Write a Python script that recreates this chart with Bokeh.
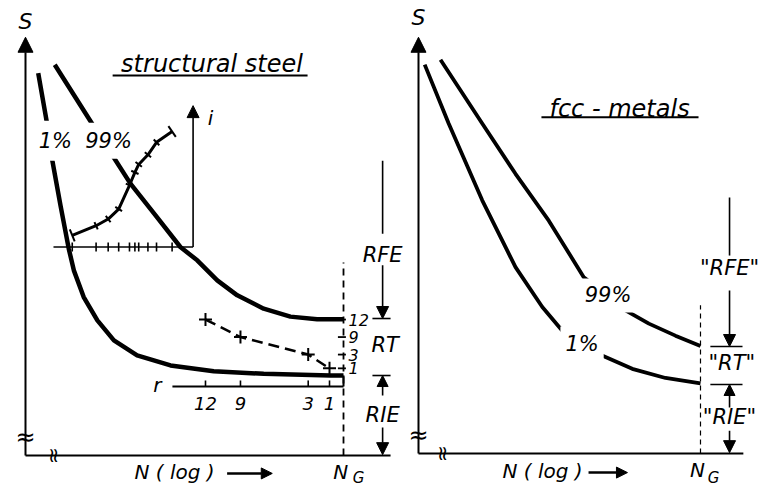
import numpy as np
from bokeh.plotting import figure
from bokeh.models import Range1d, Arrow, NormalHead, Label
from bokeh.layouts import row
from bokeh.embed import file_html
from bokeh.resources import INLINE
from bokeh.core.properties import value

FONT = "DejaVu Sans"

# ---------------- data: left panel (structural steel) ----------------
# x = N on a log scale (arbitrary units, N_G = 10), y = S (arbitrary units)
N_G = 10.0
n_99_steel = [0.92, 2.10, 2.67, 3.30, 4.09, 4.87, 5.40, 6.03, 6.66, 7.49, 8.33, 9.17, 10.0]
s_99_steel = [9.37, 7.95, 7.27, 6.52, 5.76, 5.00, 4.68, 4.20, 3.84, 3.52, 3.33, 3.27, 3.27]
n_1_steel = [0.40, 0.68, 0.84, 1.10, 1.36, 1.52, 1.83, 2.26, 2.78, 3.51, 4.56, 5.92, 7.49, 9.59, 10.0]
s_1_steel = [9.17, 7.95, 7.09, 6.00, 4.96, 4.44, 3.80, 3.24, 2.76, 2.40, 2.16, 2.02, 1.96, 1.92, 1.92]

# inset: order statistic i versus S
inset_s = [1.47, 2.22, 2.60, 2.93, 3.27, 3.44, 3.56, 3.85, 4.12, 4.61]
inset_i = [5.28, 5.51, 5.67, 5.91, 6.48, 6.79, 6.98, 7.21, 7.51, 7.77]

# RT (r = 12, 9, 3, 1)
r_values = ["12", "9", "3", "1"]
r_pos = [5.66, 6.76, 8.89, 9.56]
rt_s = [3.26, 2.84, 2.42, 2.09]

# ---------------- data: right panel (fcc metals) ----------------
n_99_fcc = [0.78, 2.26, 3.44, 4.62, 5.86, 6.60, 7.34, 8.17, 9.11, 10.0]
s_99_fcc = [9.49, 7.95, 6.74, 5.61, 4.25, 3.86, 3.45, 3.13, 2.84, 2.59]
n_1_fcc = [0.22, 1.07, 2.26, 3.44, 4.39, 5.10, 5.78, 6.51, 7.58, 8.76, 10.0]
s_1_fcc = [9.37, 7.95, 6.10, 4.49, 3.53, 2.96, 2.65, 2.36, 2.04, 1.82, 1.69]

H = 488
INK = "black"


def make_fig(w, xr, yr):
    p = figure(width=w, height=H, x_range=Range1d(*xr), y_range=Range1d(*yr),
               x_axis_location=None, y_axis_location=None, toolbar_location=None,
               output_backend="svg", min_border=0, outline_line_color=None,
               background_fill_color="white", border_fill_color="white", title=None)
    p.grid.visible = False
    return p


def txt(p, x, y, s, size, align="center", baseline="middle", italic=True, angle=0.0):
    p.text(x=[x], y=[y], text=[s], text_font=value(FONT), text_font_size=f"{size}px",
           text_font_style="italic" if italic else "normal", text_align=align,
           text_baseline=baseline, text_color=INK, angle=angle)


def boxed(p, x, y, s, size, pad=6):
    p.add_layout(Label(x=x, y=y, text=s, text_font=FONT, text_font_size=f"{size}px",
                       text_font_style="italic", text_align="center", text_baseline="middle",
                       text_color=INK, background_fill_color="white", padding=pad))


def arrow(p, x0, y0, x1, y1, size=12, lw=2):
    p.add_layout(Arrow(end=NormalHead(size=size, fill_color=INK, line_color=INK, line_width=1),
                       x_start=x0, y_start=y0, x_end=x1, y_end=y1,
                       line_width=lw, line_color=INK))


def seg(p, x0, y0, x1, y1, lw=2, dash="solid"):
    p.line([x0, x1], [y0, y1], line_width=lw, line_color=INK, line_dash=dash)


def frame_axes(p, x_end, y_top, s_label_y):
    seg(p, 0, 0, x_end, 0, lw=2)
    arrow(p, 0, 0, 0, y_top, size=15, lw=2)
    txt(p, 0, s_label_y, "S", 22)
    txt(p, 0, 0.45, "\u2248", 24, italic=False)
    txt(p, 0.85, 0, "\u2248", 20, italic=False, angle=np.pi / 2)


def regime_marks(p, xa, top0, top1, rfe_y, a0, tick_hi, rt_y, tick_lo, up0, rie_y, dn0,
                 tx0, tx1, labels, size):
    seg(p, xa, top0, xa, top1, lw=1.6)
    txt(p, xa, rfe_y, labels[0], size)
    arrow(p, xa, a0, xa, tick_hi, size=12, lw=1.6)
    seg(p, tx0, tick_hi, tx1, tick_hi, lw=1.6)
    txt(p, xa + 0.08, rt_y, labels[1], size)
    seg(p, tx0, tick_lo, tx1, tick_lo, lw=1.6)
    arrow(p, xa, up0, xa, tick_lo, size=11, lw=1.6)
    txt(p, xa, rie_y, labels[2], size)
    arrow(p, xa, dn0, xa, 0.02, size=12, lw=1.6)


# ================= left figure =================
WL = 406
XL = (-0.7862, 11.981)
YL = (-0.7914, 10.911)
pl = make_fig(WL, XL, YL)
sx_l = WL / (XL[1] - XL[0])
sy_l = H / (YL[1] - YL[0])

frame_axes(pl, 11.48, 10.03, 10.4)

# title
txt(pl, 5.865, 9.40, "structural steel", 24)
seg(pl, 2.74, 9.11, 8.87, 9.11, lw=2)

# S-N curves
pl.line(n_99_steel, s_99_steel, line_width=4.5, line_color=INK, line_join="round")
pl.line(n_1_steel, s_1_steel, line_width=4.5, line_color=INK, line_join="round")
boxed(pl, 0.94, 7.55, "1%", 21, pad=8)
boxed(pl, 2.61, 7.55, "99%", 21, pad=6)

# inset
seg(pl, 0.88, 5.0, 5.27, 5.0, lw=1.6)
arrow(pl, 5.27, 5.0, 5.27, 8.39, size=12, lw=1.6)
txt(pl, 5.82, 8.10, "i", 20)
pl.scatter(inset_s, [5.0] * len(inset_s), marker="dash", angle=np.pi / 2, size=9,
           line_width=1.6, line_color=INK)
pl.line(inset_s, inset_i, line_width=3, line_color=INK, line_join="round")
xs = np.array(inset_s) * sx_l
ys = np.array(inset_i) * sy_l
tang = np.arctan2(np.gradient(ys), np.gradient(xs))
sizes = [13] + [8] * (len(inset_s) - 2) + [13]
pl.scatter(inset_s, inset_i, marker="dash", angle=tang + np.pi / 2, size=sizes,
           line_width=2, line_color=INK)

# N_G dashed line
seg(pl, N_G, 0, N_G, 4.63, lw=1.8, dash="7 5")

# r axis
seg(pl, 4.62, 1.655, N_G, 1.655, lw=2)
seg(pl, N_G, 1.655, N_G, 1.92, lw=2)
for xp in r_pos:
    seg(pl, xp, 1.655, xp, 1.80, lw=1.6)
txt(pl, 4.15, 1.68, "r", 20)
pl.text(x=r_pos, y=[1.25] * 4, text=r_values, text_font=value(FONT), text_font_size="18px",
        text_font_style="italic", text_align="center", text_baseline="middle", text_color=INK)

# RT curve
pl.line(r_pos, rt_s, line_width=2.5, line_color=INK, line_dash="11 6")
pl.scatter(r_pos, rt_s, marker="cross", size=13, line_width=2, line_color=INK)
pl.scatter([N_G - 0.05] * 4, rt_s, marker="dash", size=8, line_width=1.8, line_color=INK)
pl.text(x=[10.16] * 4, y=rt_s, text=r_values, text_font=value(FONT), text_font_size="16px",
        text_font_style="italic", text_align="left", text_baseline="middle", text_color=INK)

regime_marks(pl, 11.23, 7.07, 5.32, 4.80, 4.56, 3.285, 2.64, 1.918, 1.44, 0.96, 0.67,
             10.91, 11.48, ["RFE", "RT", "RIE"], 21)

# x-axis label
txt(pl, 4.685, -0.40, "N ( log )", 20)
arrow(pl, 6.34, -0.43, 7.76, -0.43, size=11, lw=2.5)
txt(pl, 9.91, -0.40, "N", 20)
txt(pl, 10.47, -0.55, "G", 15)

# ================= right figure =================
WR = 354
XR = (-0.4255, 12.128)
YR = (-0.8434, 10.916)
pr = make_fig(WR, XR, YR)

frame_axes(pr, 11.52, 10.03, 10.5)

txt(pr, 7.13, 8.31, "fcc - metals", 24)
seg(pr, 4.36, 8.10, 9.93, 8.10, lw=2)

pr.line(n_99_fcc, s_99_fcc, line_width=3.8, line_color=INK, line_join="round")
pr.line(n_1_fcc, s_1_fcc, line_width=3.8, line_color=INK, line_join="round")
boxed(pr, 6.72, 3.81, "99%", 21, pad=5)
boxed(pr, 5.80, 2.65, "1%", 21, pad=5)

seg(pr, N_G, 0, N_G, 3.57, lw=1.2, dash="5 4")

regime_marks(pr, 11.03, 6.17, 4.77, 4.46, 3.93, 2.578, 2.17, 1.663, 1.11, 0.87, 0.55,
             10.35, 11.49, ["\"RFE\"", "\"RT\"", "\"RIE\""], 21)

txt(pr, 4.40, -0.42, "N ( log )", 20)
arrow(pr, 6.03, -0.46, 7.41, -0.46, size=11, lw=2.5)
txt(pr, 9.89, -0.40, "N", 20)
txt(pr, 10.46, -0.58, "G", 15)

layout = row(pl, pr)
open("out.html", "w").write(file_html(layout, INLINE))
